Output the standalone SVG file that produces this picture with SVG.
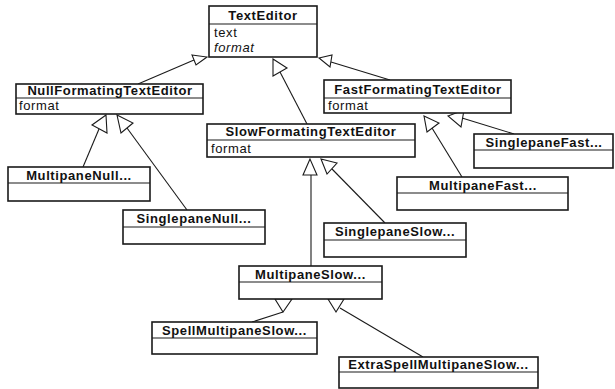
<svg xmlns="http://www.w3.org/2000/svg" width="615" height="389" viewBox="0 0 615 389">
<style>
.box{fill:#fff;stroke:#1a1a1a;stroke-width:1.6}
.sep{stroke:#1a1a1a;stroke-width:1.2}
.t{font-family:"Liberation Sans",Arial,sans-serif;font-size:13px;font-weight:bold;letter-spacing:0.6px;text-anchor:middle;fill:#111}
.a{font-family:"Liberation Sans",Arial,sans-serif;font-size:13px;letter-spacing:0.6px;fill:#111}
.ln{stroke:#1a1a1a;stroke-width:1.1;fill:none}
.tri{fill:#fff;stroke:#1a1a1a;stroke-width:1.1;stroke-linejoin:miter}
</style>
<rect width="615" height="389" fill="#fff"/>
<g id="connectors">
<line class="ln" x1="138" y1="84" x2="194" y2="60"/>
<polygon class="tri" points="192,55 207,57 196,65"/>
<line class="ln" x1="307" y1="124" x2="280" y2="72"/>
<polygon class="tri" points="273,59 287,68 273,76"/>
<line class="ln" x1="390" y1="80" x2="331" y2="62"/>
<polygon class="tri" points="319,58 332,55 330,67"/>
<line class="ln" x1="83" y1="167" x2="99" y2="129"/>
<polygon class="tri" points="106,115 92,125 107,133"/>
<line class="ln" x1="187" y1="210" x2="127" y2="128"/>
<polygon class="tri" points="117,115 133,123 121,133"/>
<line class="ln" x1="311" y1="266" x2="311" y2="175"/>
<polygon class="tri" points="310,159 303,175 317,175"/>
<line class="ln" x1="385" y1="223" x2="332" y2="169"/>
<polygon class="tri" points="321,159 337,163 327,174"/>
<line class="ln" x1="462" y1="177" x2="432" y2="128"/>
<polygon class="tri" points="424,116 439,123 427,132"/>
<line class="ln" x1="514" y1="134" x2="462" y2="118"/>
<polygon class="tri" points="448,116 464,110 461,127"/>
<line class="ln" x1="252" y1="322" x2="283" y2="312"/>
<polygon class="tri" points="275,299 292,299 283,312"/>
<line class="ln" x1="340" y1="308" x2="423" y2="357"/>
<polygon class="tri" points="328,299 344,299 336,312"/>
</g>
<g id="TextEditor">
<rect class="box" x="209" y="6" width="108" height="51"/>
<line class="sep" x1="209" y1="24" x2="317" y2="24"/>
<text class="t" x="263" y="19.5">TextEditor</text>
<text class="a" x="214" y="37">text</text>
<text class="a" x="214" y="52" font-style="italic">format</text>
</g>
<g id="NullFormatingTextEditor">
<rect class="box" x="16" y="84" width="187" height="30"/>
<line class="sep" x1="16" y1="98" x2="203" y2="98"/>
<text class="t" x="110" y="95">NullFormatingTextEditor</text>
<text class="a" x="19" y="110">format</text>
</g>
<g id="FastFormatingTextEditor">
<rect class="box" x="324" y="80" width="187" height="33"/>
<line class="sep" x1="324" y1="98" x2="511" y2="98"/>
<text class="t" x="418" y="94">FastFormatingTextEditor</text>
<text class="a" x="328" y="110">format</text>
</g>
<g id="SlowFormatingTextEditor">
<rect class="box" x="207" y="124" width="208" height="33"/>
<line class="sep" x1="207" y1="140" x2="415" y2="140"/>
<text class="t" x="311" y="136">SlowFormatingTextEditor</text>
<text class="a" x="211" y="153">format</text>
</g>
<g id="SinglepaneFast">
<rect class="box" x="474" y="134" width="139" height="34"/>
<line class="sep" x1="474" y1="150" x2="613" y2="150"/>
<text class="t" x="544" y="146.5">SinglepaneFast...</text>
</g>
<g id="MultipaneFast">
<rect class="box" x="397" y="177" width="171" height="33"/>
<line class="sep" x1="397" y1="193" x2="568" y2="193"/>
<text class="t" x="483" y="189.5">MultipaneFast...</text>
</g>
<g id="MultipaneNull">
<rect class="box" x="8" y="167" width="142" height="34"/>
<line class="sep" x1="8" y1="183" x2="150" y2="183"/>
<text class="t" x="79" y="179.5">MultipaneNull...</text>
</g>
<g id="SinglepaneNull">
<rect class="box" x="123" y="210" width="142" height="34"/>
<line class="sep" x1="123" y1="227" x2="265" y2="227"/>
<text class="t" x="194" y="223">SinglepaneNull...</text>
</g>
<g id="SinglepaneSlow">
<rect class="box" x="324" y="223" width="142" height="34"/>
<line class="sep" x1="324" y1="240" x2="466" y2="240"/>
<text class="t" x="395" y="236">SinglepaneSlow...</text>
</g>
<g id="MultipaneSlow">
<rect class="box" x="239" y="266" width="143" height="33"/>
<line class="sep" x1="239" y1="282" x2="382" y2="282"/>
<text class="t" x="310.5" y="278.5">MultipaneSlow...</text>
</g>
<g id="SpellMultipaneSlow">
<rect class="box" x="152" y="322" width="165" height="32"/>
<line class="sep" x1="152" y1="338" x2="317" y2="338"/>
<text class="t" x="234.5" y="334.5">SpellMultipaneSlow...</text>
</g>
<g id="ExtraSpellMultipaneSlow">
<rect class="box" x="339" y="357" width="199" height="31"/>
<line class="sep" x1="339" y1="372" x2="538" y2="372"/>
<text class="t" x="438.5" y="369">ExtraSpellMultipaneSlow...</text>
</g>
</svg>
